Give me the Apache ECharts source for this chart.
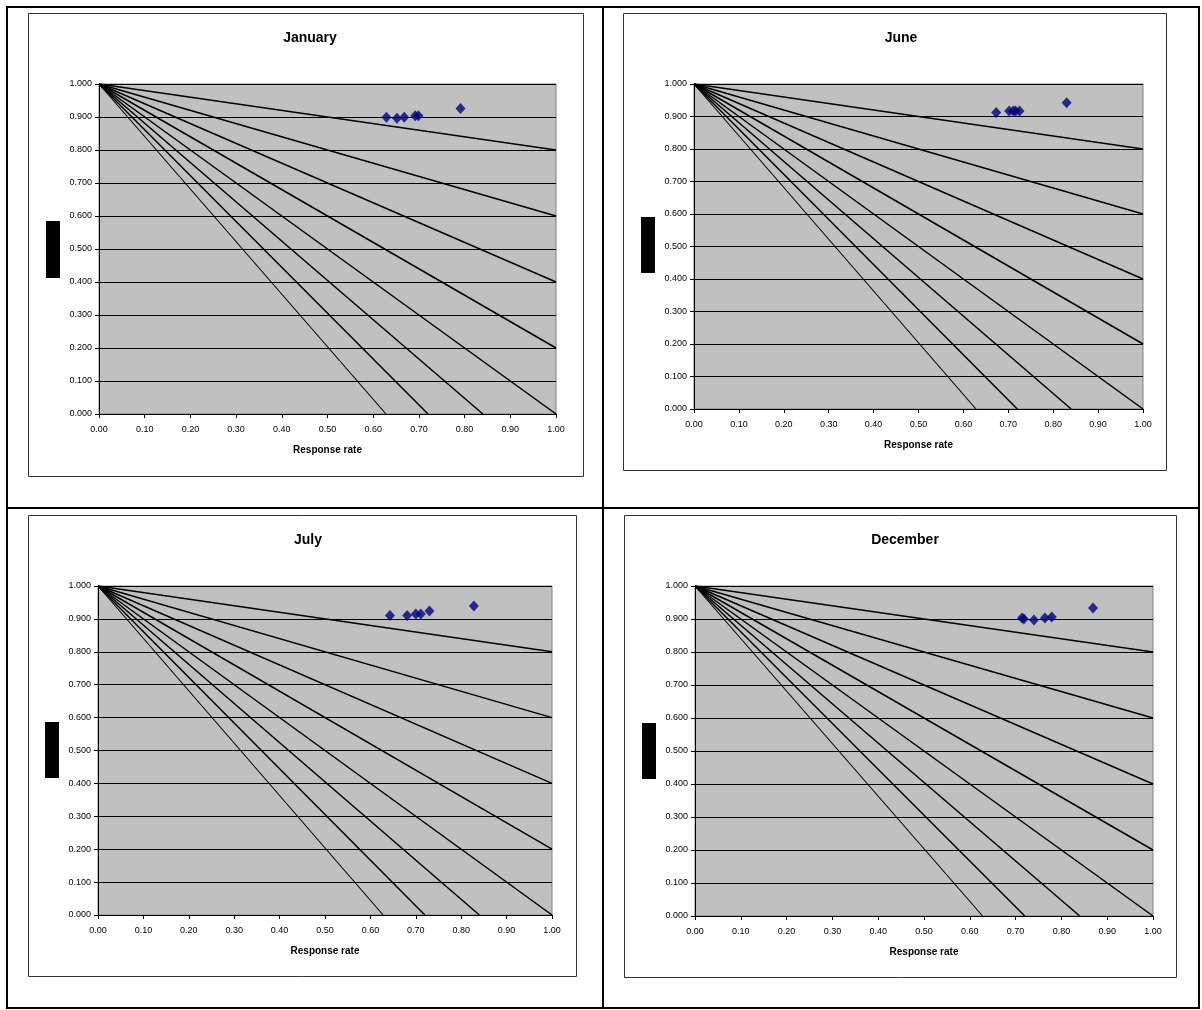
<!DOCTYPE html>
<html>
<head>
<meta charset="utf-8">
<script src="https://cdn.jsdelivr.net/npm/echarts@6/dist/echarts.min.js"></script>
<style>
  html, body { margin: 0; padding: 0; background: #ffffff; }
  #chart { width: 1202px; height: 1010px; }
</style>
</head>
<body>
<div id="chart"></div>
<script>
// Panel titles
const months = ['January', 'June', 'July', 'December'];

// Reference lines: each runs from (0, 1) to its end point
const lineStart = [0, 1];
const lineEnds = [[1, 0.8], [1, 0.6], [1, 0.4], [1, 0.2], [1, 0.0], [0.84, 0], [0.72, 0], [0.628, 0]];

// Monthly observations: response rate (x) and indicator value (y)
const janRate = [0.629, 0.652, 0.668, 0.692, 0.699, 0.791];
const janValue = [0.899, 0.896, 0.899, 0.904, 0.904, 0.926];
const junRate = [0.673, 0.702, 0.711, 0.716, 0.725, 0.830];
const junValue = [0.912, 0.917, 0.917, 0.917, 0.917, 0.942];
const julRate = [0.643, 0.681, 0.700, 0.711, 0.730, 0.828];
const julValue = [0.910, 0.910, 0.915, 0.915, 0.924, 0.939];
const decRate = [0.714, 0.718, 0.740, 0.764, 0.779, 0.869];
const decValue = [0.903, 0.900, 0.897, 0.903, 0.906, 0.933];

// Axis ticks
const xTicks = [0.0, 0.1, 0.2, 0.3, 0.4, 0.5, 0.6, 0.7, 0.8, 0.9, 1.0];
const yTicks = [0.0, 0.1, 0.2, 0.3, 0.4, 0.5, 0.6, 0.7, 0.8, 0.9, 1.0];
const xAxisTitle = 'Response rate';

const observations = [
  [janRate, janValue],
  [junRate, junValue],
  [julRate, julValue],
  [decRate, decValue]
];

// Layout of the four panels (plot area, chart frame, title, hidden y-title block)
const panels = [
  { plot: [99, 84, 457, 330], frame: [28, 13, 555, 463], title: [305, 26], block: [46, 221, 14, 57] },
  { plot: [694, 84, 449, 325], frame: [623, 13, 543, 457], title: [896, 26], block: [641, 217, 14, 56] },
  { plot: [98, 586, 454, 329], frame: [28, 515, 548, 461], title: [303, 528], block: [45, 722, 14, 56] },
  { plot: [695, 586, 458, 330], frame: [624, 515, 552, 462], title: [900, 528], block: [642, 723, 14, 56] }
];

const font = 'Arial, "Liberation Sans", sans-serif';

const grids = [], xAxes = [], yAxes = [], series = [], titles = [], graphics = [];

// Outer table borders
graphics.push(
  { type: 'rect', shape: { x: 7, y: 7, width: 1192, height: 1001 }, style: { fill: null, stroke: '#000', lineWidth: 2 }, z: 100 },
  { type: 'line', shape: { x1: 603, y1: 7, x2: 603, y2: 1008 }, style: { stroke: '#000', lineWidth: 2 }, z: 100 },
  { type: 'line', shape: { x1: 7, y1: 508, x2: 1199, y2: 508 }, style: { stroke: '#000', lineWidth: 2 }, z: 100 }
);

panels.forEach((p, i) => {
  const [left, top, width, height] = p.plot;
  grids.push({
    left: left, top: top, width: width, height: height,
    show: true, backgroundColor: '#C0C0C0', borderColor: '#808080', borderWidth: 1
  });
  xAxes.push({
    type: 'value', gridIndex: i, min: xTicks[0], max: xTicks[xTicks.length - 1], interval: 0.1,
    name: xAxisTitle, nameLocation: 'middle', nameGap: 31,
    nameTextStyle: { fontFamily: font, fontSize: 10, fontWeight: 'bold', color: '#000' },
    axisLine: { show: true, onZero: false, lineStyle: { color: '#000', width: 1 } },
    axisTick: { show: true, inside: false, length: 4, lineStyle: { color: '#000' } },
    axisLabel: { fontFamily: font, fontSize: 9, color: '#000', margin: 11, formatter: v => v.toFixed(2) },
    splitLine: { show: false }
  });
  yAxes.push({
    type: 'value', gridIndex: i, min: yTicks[0], max: yTicks[yTicks.length - 1], interval: 0.1,
    axisLine: { show: true, onZero: false, lineStyle: { color: '#000', width: 1 } },
    axisTick: { show: true, inside: false, length: 4, lineStyle: { color: '#000' } },
    axisLabel: { fontFamily: font, fontSize: 9, color: '#000', margin: 7, formatter: v => v.toFixed(3) },
    splitLine: { show: true, lineStyle: { color: '#000', width: 1 } }
  });

  lineEnds.forEach((end, k) => {
    series.push({
      type: 'line', xAxisIndex: i, yAxisIndex: i,
      data: [lineStart, end],
      showSymbol: false, symbol: 'none', silent: true,
      lineStyle: { color: '#000', width: k === lineEnds.length - 1 ? 1.1 : 1.5 },
      z: 3
    });
  });

  const [rate, value] = observations[i];
  series.push({
    type: 'scatter', xAxisIndex: i, yAxisIndex: i,
    data: rate.map((r, j) => [r, value[j]]),
    symbol: 'diamond', symbolSize: [10, 11],
    itemStyle: { color: '#000080' },
    z: 5
  });

  titles.push({
    text: months[i], left: p.title[0], top: p.title[1], textAlign: 'center',
    textStyle: { fontFamily: font, fontSize: 14, fontWeight: 'bold', color: '#000' }
  });

  const [fx, fy, fw, fh] = p.frame;
  graphics.push({ type: 'rect', shape: { x: fx + 0.5, y: fy + 0.5, width: fw, height: fh }, style: { fill: null, stroke: '#333', lineWidth: 1 }, z: 100 });
  const [bx, by, bw, bh] = p.block;
  graphics.push({ type: 'rect', shape: { x: bx, y: by, width: bw, height: bh }, style: { fill: '#000' }, z: 100 });
});

const chart = echarts.init(document.getElementById('chart'), null, { renderer: 'canvas' });
chart.setOption({
  animation: false,
  backgroundColor: '#ffffff',
  title: titles,
  grid: grids,
  xAxis: xAxes,
  yAxis: yAxes,
  series: series,
  graphic: graphics
});
</script>
</body>
</html>
